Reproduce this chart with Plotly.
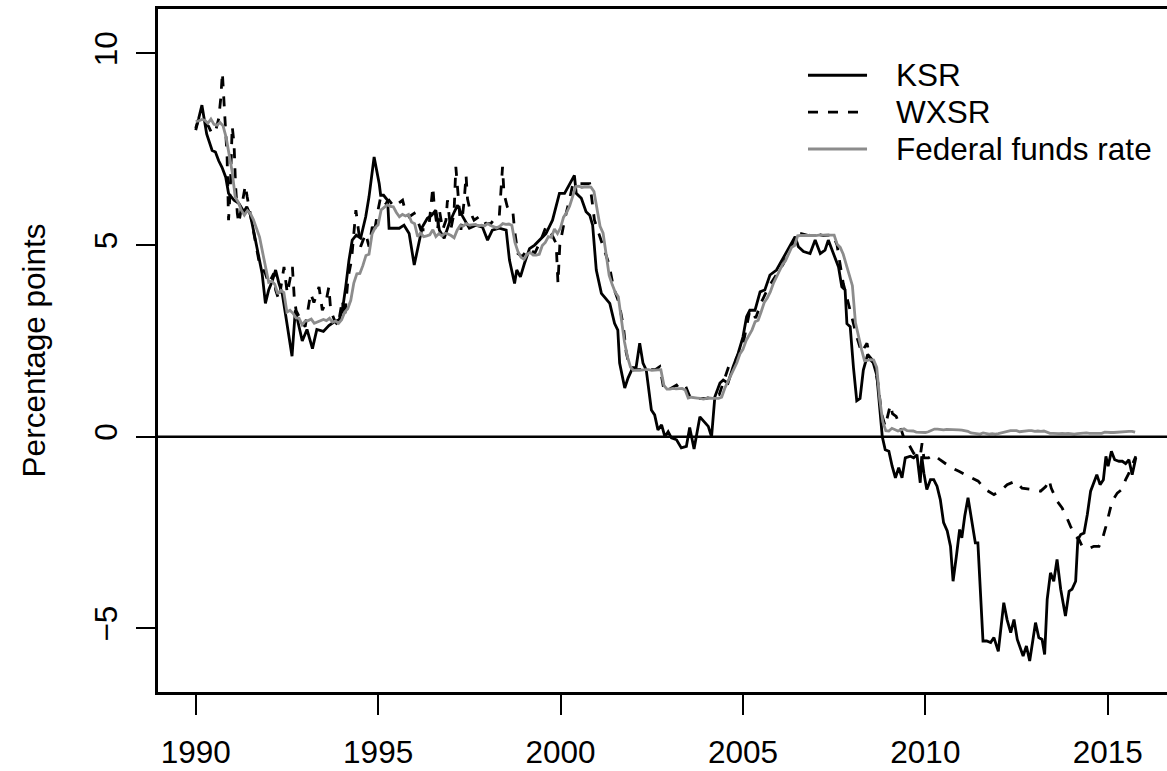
import plotly.graph_objects as go

# ---------------- data ----------------
# Effective federal funds rate, monthly from 1990-01 to 2015-10
ffr_start_year = 1990
fed_funds = [
    8.23, 8.24, 8.28, 8.26, 8.18, 8.29, 8.15, 8.13, 8.20, 8.11, 7.81, 7.31,  # 1990
    6.91, 6.25, 6.12, 5.91, 5.78, 5.90, 5.82, 5.66, 5.45, 5.21, 4.81, 4.43,  # 1991
    4.03, 4.06, 3.98, 3.73, 3.82, 3.76, 3.25, 3.30, 3.22, 3.10, 3.09, 2.92,  # 1992
    3.02, 3.03, 3.07, 2.96, 3.00, 3.04, 3.06, 3.03, 3.09, 2.99, 3.02, 2.96,  # 1993
    3.05, 3.25, 3.34, 3.56, 4.01, 4.25, 4.26, 4.47, 4.73, 4.76, 5.29, 5.45,  # 1994
    5.53, 5.92, 5.98, 6.05, 6.01, 6.00, 5.85, 5.74, 5.80, 5.76, 5.80, 5.60,  # 1995
    5.56, 5.22, 5.31, 5.22, 5.24, 5.27, 5.40, 5.22, 5.30, 5.24, 5.31, 5.29,  # 1996
    5.25, 5.19, 5.39, 5.51, 5.50, 5.56, 5.52, 5.54, 5.54, 5.50, 5.52, 5.50,  # 1997
    5.56, 5.51, 5.49, 5.45, 5.49, 5.56, 5.54, 5.55, 5.51, 5.07, 4.83, 4.68,  # 1998
    4.63, 4.76, 4.81, 4.74, 4.74, 4.76, 4.99, 5.07, 5.22, 5.20, 5.42, 5.30,  # 1999
    5.45, 5.73, 5.85, 6.02, 6.27, 6.53, 6.54, 6.50, 6.52, 6.51, 6.51, 6.40,  # 2000
    5.98, 5.49, 5.31, 4.80, 4.21, 3.97, 3.77, 3.65, 3.07, 2.49, 2.09, 1.82,  # 2001
    1.73, 1.74, 1.73, 1.75, 1.75, 1.75, 1.73, 1.74, 1.75, 1.75, 1.34, 1.24,  # 2002
    1.24, 1.26, 1.25, 1.26, 1.26, 1.22, 1.01, 1.03, 1.01, 1.01, 1.00, 0.98,  # 2003
    1.00, 1.01, 1.00, 1.00, 1.00, 1.03, 1.26, 1.43, 1.61, 1.76, 1.93, 2.16,  # 2004
    2.28, 2.50, 2.63, 2.79, 3.00, 3.04, 3.26, 3.50, 3.62, 3.78, 4.00, 4.16,  # 2005
    4.29, 4.49, 4.59, 4.79, 4.94, 4.99, 5.24, 5.25, 5.25, 5.25, 5.25, 5.24,  # 2006
    5.25, 5.26, 5.26, 5.25, 5.25, 5.25, 5.26, 5.02, 4.94, 4.76, 4.49, 4.24,  # 2007
    3.94, 2.98, 2.61, 2.28, 1.98, 2.00, 2.01, 2.00, 1.81, 0.97, 0.39, 0.16,  # 2008
    0.15, 0.22, 0.18, 0.15, 0.18, 0.21, 0.16, 0.16, 0.15, 0.12, 0.12, 0.12,  # 2009
    0.11, 0.13, 0.16, 0.20, 0.20, 0.18, 0.18, 0.19, 0.19, 0.19, 0.19, 0.18,  # 2010
    0.17, 0.16, 0.14, 0.10, 0.09, 0.09, 0.07, 0.10, 0.08, 0.07, 0.08, 0.07,  # 2011
    0.08, 0.10, 0.13, 0.14, 0.16, 0.16, 0.16, 0.13, 0.14, 0.16, 0.16, 0.16,  # 2012
    0.14, 0.15, 0.14, 0.15, 0.11, 0.09, 0.09, 0.08, 0.08, 0.09, 0.08, 0.09,  # 2013
    0.07, 0.07, 0.08, 0.09, 0.09, 0.10, 0.09, 0.09, 0.09, 0.09, 0.09, 0.12,  # 2014
    0.11, 0.11, 0.11, 0.12, 0.12, 0.13, 0.13, 0.14, 0.14, 0.12,              # 2015
]

# Krippner shadow rate, time in decimal years
ksr_time = [
    1990.00, 1990.08, 1990.17, 1990.30, 1990.45, 1990.54, 1990.63, 1990.72, 1990.82, 1990.90,
    1991.05, 1991.18, 1991.32, 1991.40, 1991.50, 1991.60, 1991.73, 1991.82, 1991.91, 1992.00,
    1992.09, 1992.19, 1992.28, 1992.37, 1992.46, 1992.55, 1992.64, 1992.73, 1992.82, 1992.92,
    1993.05, 1993.20, 1993.32, 1993.50, 1993.65, 1993.80, 1993.93, 1994.02, 1994.11, 1994.20,
    1994.29, 1994.40, 1994.52, 1994.66, 1994.75, 1994.89, 1995.03, 1995.07, 1995.15, 1995.26,
    1995.30, 1995.58, 1995.71, 1995.85, 1995.99, 1996.13, 1996.21, 1996.35, 1996.47, 1996.58,
    1996.68, 1996.81, 1996.95, 1997.09, 1997.18, 1997.32, 1997.50, 1997.68, 1997.86, 1998.00,
    1998.13, 1998.32, 1998.51, 1998.60, 1998.74, 1998.80, 1998.90, 1999.01, 1999.15, 1999.29,
    1999.42, 1999.60, 1999.78, 1999.97, 2000.11, 2000.19, 2000.29, 2000.38, 2000.43, 2000.57,
    2000.70, 2000.80, 2000.88, 2000.98, 2001.12, 2001.26, 2001.35, 2001.48, 2001.57, 2001.62,
    2001.76, 2001.85, 2001.98, 2002.07, 2002.17, 2002.26, 2002.35, 2002.49, 2002.58, 2002.67,
    2002.77, 2002.86, 2002.95, 2003.04, 2003.18, 2003.31, 2003.45, 2003.54, 2003.66, 2003.82,
    2003.96, 2004.05, 2004.14, 2004.23, 2004.37, 2004.46, 2004.59, 2004.73, 2004.87, 2005.00,
    2005.10, 2005.19, 2005.33, 2005.47, 2005.60, 2005.74, 2005.92, 2006.10, 2006.29, 2006.43,
    2006.52, 2006.66, 2006.84, 2006.98, 2007.12, 2007.25, 2007.34, 2007.47, 2007.62, 2007.71,
    2007.80, 2007.85, 2007.94, 2008.03, 2008.12, 2008.21, 2008.30, 2008.42, 2008.55, 2008.67,
    2008.76, 2008.82, 2008.90, 2009.00, 2009.09, 2009.18, 2009.27, 2009.36, 2009.45, 2009.59,
    2009.68, 2009.77, 2009.86, 2009.90, 2009.96, 2010.04, 2010.14, 2010.23, 2010.32, 2010.41,
    2010.50, 2010.60, 2010.69, 2010.76, 2010.85, 2010.94, 2011.00, 2011.08, 2011.17, 2011.28,
    2011.37, 2011.44, 2011.51, 2011.58, 2011.68, 2011.79, 2011.88, 2012.00, 2012.15, 2012.24,
    2012.34, 2012.43, 2012.52, 2012.61, 2012.68, 2012.77, 2012.86, 2012.95, 2013.02, 2013.11,
    2013.20, 2013.27, 2013.34, 2013.43, 2013.52, 2013.61, 2013.71, 2013.84, 2013.94, 2014.02,
    2014.12, 2014.18, 2014.26, 2014.35, 2014.44, 2014.53, 2014.62, 2014.70, 2014.79, 2014.88,
    2014.95, 2015.01, 2015.10, 2015.19, 2015.31, 2015.40, 2015.49, 2015.58, 2015.67, 2015.77,
]
ksr_value = [
    8.05, 8.30, 8.65, 7.90, 7.47, 7.43, 7.20, 7.03, 6.78, 6.35,
    6.17, 6.09, 5.87, 6.00, 5.78, 5.30, 4.69, 4.26, 3.48, 3.83,
    4.04, 4.35, 4.00, 3.74, 3.20, 2.70, 2.10, 3.30, 2.90, 2.50,
    2.80, 2.30, 2.80, 2.75, 2.90, 3.00, 3.05, 3.30, 3.90, 4.60,
    5.13, 5.26, 5.18, 5.74, 6.26, 7.30, 6.60, 6.30, 6.30, 6.17,
    5.44, 5.44, 5.52, 5.30, 4.48, 5.13, 5.47, 5.70, 5.78, 5.91,
    5.39, 5.18, 5.57, 5.87, 6.04, 5.74, 5.44, 5.52, 5.47, 5.13,
    5.39, 5.44, 5.39, 4.61, 4.00, 4.35, 4.17, 4.52, 4.91, 5.00,
    5.13, 5.30, 5.65, 6.35, 6.35, 6.48, 6.65, 6.82, 6.35, 6.22,
    5.87, 5.78, 5.52, 4.35, 3.74, 3.57, 3.48, 2.96, 2.78, 1.92,
    1.27, 1.53, 1.80, 1.80, 2.44, 1.92, 1.74, 0.70, 0.57, 0.18,
    0.31, 0.00, 0.13, -0.03, -0.08, -0.29, -0.25, 0.24, -0.32, 0.52,
    0.36, 0.27, 0.00, 1.04, 1.40, 1.48, 1.40, 1.83, 2.18, 2.60,
    3.13, 3.30, 3.30, 3.78, 3.83, 4.22, 4.35, 4.66, 4.96, 5.22,
    4.96, 4.83, 4.78, 5.13, 4.78, 4.87, 5.13, 4.78, 4.43, 3.91,
    3.83, 2.95, 2.87, 1.80, 0.94, 1.00, 1.74, 2.15, 2.00, 1.60,
    0.50, 0.00, -0.34, -0.38, -0.77, -1.07, -0.81, -1.07, -0.55, -0.51,
    -0.55, -0.47, -1.20, -0.51, -0.95, -1.38, -1.12, -1.12, -1.29, -1.64,
    -2.24, -2.46, -2.86, -3.77, -3.12, -2.42, -2.64, -2.07, -1.59, -2.29,
    -2.77, -2.77, -4.00, -5.33, -5.33, -5.37, -5.24, -5.60, -4.33, -4.77,
    -5.11, -4.77, -5.29, -5.55, -5.72, -5.46, -5.85, -5.29, -4.85, -5.24,
    -5.29, -5.68, -4.24, -3.55, -3.77, -3.20, -3.98, -4.68, -4.03, -3.98,
    -3.77, -2.68, -2.55, -2.51, -2.03, -1.42, -1.21, -0.99, -1.25, -1.12,
    -0.51, -0.77, -0.38, -0.60, -0.64, -0.64, -0.70, -0.60, -0.99, -0.55,
]

# Wu-Xia shadow rate, time in decimal years
wxsr_time = [
    1990.00, 1990.08, 1990.20, 1990.35, 1990.45, 1990.55, 1990.63, 1990.69, 1990.73, 1990.78,
    1990.86, 1990.90, 1990.95, 1991.00, 1991.05, 1991.09, 1991.14, 1991.18, 1991.27, 1991.36,
    1991.41, 1991.50, 1991.60, 1991.73, 1991.82, 1991.91, 1992.00, 1992.14, 1992.19, 1992.28,
    1992.42, 1992.51, 1992.65, 1992.70, 1992.75, 1992.85, 1993.00, 1993.15, 1993.24, 1993.38,
    1993.47, 1993.56, 1993.65, 1993.70, 1993.80, 1993.90, 1994.02, 1994.08, 1994.18, 1994.27,
    1994.39, 1994.45, 1994.52, 1994.66, 1994.75, 1994.84, 1994.89, 1994.98, 1995.07, 1995.21,
    1995.30, 1995.44, 1995.67, 1995.75, 1995.85, 1995.99, 1996.08, 1996.17, 1996.30, 1996.40,
    1996.50, 1996.54, 1996.63, 1996.68, 1996.77, 1996.86, 1996.90, 1996.99, 1997.08, 1997.13,
    1997.18, 1997.27, 1997.36, 1997.41, 1997.45, 1997.54, 1997.63, 1997.77, 1997.86, 1997.95,
    1998.09, 1998.23, 1998.32, 1998.41, 1998.45, 1998.54, 1998.60, 1998.69, 1998.74, 1998.83,
    1998.95, 1999.10, 1999.30, 1999.45, 1999.60, 1999.75, 1999.88, 1999.93, 1999.98, 2000.11,
    2000.24, 2000.34, 2000.50, 2000.65, 2000.80, 2000.85, 2000.93, 2001.05, 2001.20, 2001.33,
    2001.45, 2001.60, 2001.72, 2001.80, 2001.90, 2002.00, 2002.30, 2002.60, 2002.72, 2002.82,
    2002.90, 2003.00, 2003.18, 2003.30, 2003.45, 2003.52, 2003.60, 2004.00, 2004.35, 2004.50,
    2004.64, 2004.80, 2005.00, 2005.19, 2005.35, 2005.50, 2005.70, 2005.90, 2006.10, 2006.30,
    2006.47, 2006.60, 2006.80, 2006.98, 2007.20, 2007.47, 2007.58, 2007.66, 2007.75, 2007.89,
    2007.98, 2008.12, 2008.25, 2008.40, 2008.50, 2008.60, 2008.70, 2008.80, 2008.90, 2009.04,
    2009.10, 2009.20, 2009.30, 2009.40, 2009.50, 2009.68, 2009.77, 2009.86, 2009.91, 2009.96,
    2010.09, 2010.23, 2010.40, 2010.55, 2010.70, 2010.92, 2011.10, 2011.28, 2011.45, 2011.65,
    2011.88, 2012.10, 2012.24, 2012.47, 2012.65, 2012.85, 2012.97, 2013.16, 2013.30, 2013.39,
    2013.45, 2013.61, 2013.75, 2013.90, 2013.98, 2014.12, 2014.21, 2014.30, 2014.45, 2014.53,
    2014.62, 2014.76, 2014.85, 2014.95, 2015.04, 2015.12, 2015.26, 2015.38, 2015.49, 2015.58,
    2015.67, 2015.77,
]
wxsr_value = [
    8.00, 8.30, 8.20, 8.10, 7.90, 8.00, 8.30, 8.86, 9.50, 8.50,
    7.30, 5.65, 6.52, 8.10, 7.65, 6.60, 5.83, 5.57, 6.10, 6.56,
    6.26, 5.80, 5.30, 4.60, 4.40, 4.26, 4.00, 4.26, 3.83, 3.57,
    4.43, 3.74, 4.43, 3.65, 3.30, 3.10, 2.87, 3.74, 3.50, 3.91,
    3.30, 3.48, 3.91, 3.30, 3.05, 2.90, 3.57, 3.10, 4.17, 4.60,
    5.91, 5.40, 4.96, 5.30, 4.96, 5.48, 5.30, 5.83, 6.26, 6.09,
    6.17, 6.00, 6.17, 5.87, 5.74, 5.83, 5.65, 5.40, 5.40, 5.56,
    6.52, 6.00, 5.40, 5.91, 5.40, 5.65, 6.17, 5.40, 5.83, 7.04,
    6.43, 5.40, 6.17, 6.82, 6.20, 5.83, 5.65, 5.74, 5.74, 5.56,
    5.56, 5.74, 5.74, 7.04, 6.35, 6.00, 5.90, 5.91, 5.39, 4.78,
    4.70, 4.90, 4.80, 5.10, 5.48, 5.30, 5.04, 4.00, 5.00, 5.65,
    6.17, 6.60, 6.60, 6.60, 6.60, 6.26, 5.65, 5.30, 4.90, 4.50,
    3.90, 3.50, 2.90, 2.20, 1.80, 1.75, 1.75, 1.75, 1.83, 1.30,
    1.18, 1.25, 1.35, 1.20, 1.27, 1.10, 1.00, 1.00, 1.10, 1.50,
    1.92, 2.00, 2.40, 3.30, 3.10, 3.50, 3.90, 4.20, 4.50, 4.90,
    5.30, 5.30, 5.25, 5.30, 5.25, 5.27, 5.00, 4.52, 4.00, 3.48,
    3.13, 2.61, 2.20, 2.44, 2.00, 1.90, 1.40, 0.60, 0.27, 0.83,
    0.60, 0.53, 0.30, 0.00, -0.12, -0.43, -0.50, -0.51, -0.17, -0.55,
    -0.55, -0.47, -0.60, -0.69, -0.80, -0.90, -1.00, -1.08, -1.16, -1.38,
    -1.51, -1.38, -1.25, -1.16, -1.34, -1.36, -1.38, -1.42, -1.30, -1.12,
    -1.34, -1.68, -1.86, -2.16, -2.34, -2.60, -2.68, -2.86, -2.86, -2.90,
    -2.86, -2.86, -2.68, -2.34, -1.99, -1.68, -1.47, -1.38, -1.12, -0.95,
    -0.73, -0.51,
]

series_names = ["KSR", "WXSR", "Federal funds rate"]
x_tick_values = [1990, 1995, 2000, 2005, 2010, 2015]
y_tick_values = [-5, 0, 5, 10]
y_axis_title = "Percentage points"

# ---------------- figure ----------------
ffr_time = [ffr_start_year + i / 12 for i in range(len(fed_funds))]

FONT = "Liberation Sans, Arial, Helvetica, sans-serif"
FS = 31.5
GRAY = "#8c8c8c"
LW = 2.8

fig = go.Figure()
fig.add_trace(go.Scatter(x=ksr_time, y=ksr_value, mode="lines", name=series_names[0],
                         line=dict(color="black", width=LW), showlegend=False))
fig.add_trace(go.Scatter(x=wxsr_time, y=wxsr_value, mode="lines", name=series_names[1],
                         line=dict(color="black", width=LW, dash="10px,10px"), showlegend=False))
fig.add_trace(go.Scatter(x=ffr_time, y=fed_funds, mode="lines", name=series_names[2],
                         line=dict(color=GRAY, width=LW), showlegend=False))

# zero line
fig.add_shape(type="line", xref="paper", x0=0, x1=1, yref="y", y0=0, y1=0,
              line=dict(color="black", width=2.5))

# legend drawn by hand (R-style)
legend_styles = [dict(color="black", width=LW),
                 dict(color="black", width=LW, dash="10px,10px"),
                 dict(color=GRAY, width=LW)]
legend_rows = [0.903, 0.849, 0.795]
for name, style, yy in zip(series_names, legend_styles, legend_rows):
    fig.add_shape(type="line", xref="paper", yref="paper", x0=0.6442, x1=0.7027,
                  y0=yy, y1=yy, line=style)
    fig.add_annotation(xref="paper", yref="paper", x=0.7295, y=yy, text=name,
                       showarrow=False, xanchor="left", yanchor="middle",
                       font=dict(family=FONT, size=FS, color="black"))

# y axis title as rotated annotation
fig.add_annotation(xref="paper", yref="paper", x=-0.123, y=0.5, text=y_axis_title,
                   textangle=-90, showarrow=False, xanchor="center", yanchor="middle",
                   font=dict(family=FONT, size=FS, color="black"))

fig.update_layout(
    width=1167, height=771,
    margin=dict(l=158, r=0, t=9, b=79),
    paper_bgcolor="white", plot_bgcolor="white",
    font=dict(family=FONT, size=FS, color="black"),
    showlegend=False,
)
fig.update_xaxes(range=[1988.966, 2016.624], tickvals=x_tick_values,
                 ticktext=[str(v) for v in x_tick_values],
                 showgrid=False, zeroline=False, showline=True, linecolor="black",
                 linewidth=2.5, mirror=True, ticks="outside", ticklen=20, tickwidth=2,
                 tickcolor="black", ticklabelstandoff=10)
fig.update_yaxes(range=[-6.66, 11.16], tickvals=y_tick_values,
                 ticktext=[("\u22125" if v < 0 else str(v)) for v in y_tick_values],
                 tickangle=-90,
                 showgrid=False, zeroline=False, showline=True, linecolor="black",
                 linewidth=2.5, mirror=False, ticks="outside", ticklen=19, tickwidth=2,
                 tickcolor="black", ticklabelstandoff=7)

fig.write_html("out.html",
               config={"displayModeBar": False},
               post_script="document.body.style.margin='0';"
                           "document.body.style.padding='0';"
                           "document.body.style.overflow='hidden';")
